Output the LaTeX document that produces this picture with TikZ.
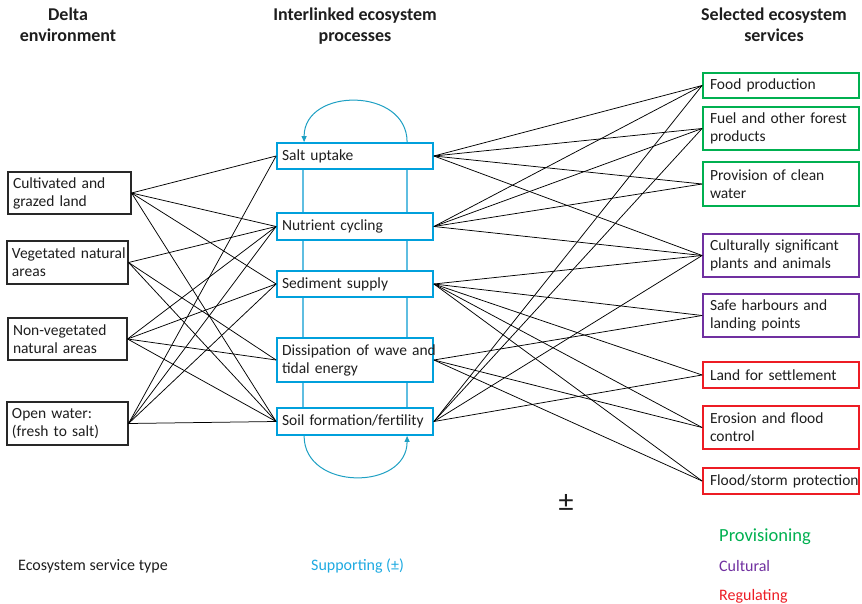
\documentclass[tikz,border=0pt]{standalone}
\usepackage{fontspec}
\setmainfont{Carlito}
\usetikzlibrary{arrows.meta}
\definecolor{txt}{RGB}{30,30,30}
\definecolor{lbd}{RGB}{40,40,40}
\definecolor{midblue}{RGB}{0,160,220}
\definecolor{vblue}{RGB}{95,190,225}
\definecolor{arcblue}{RGB}{30,160,195}
\definecolor{supblue}{RGB}{30,170,225}
\definecolor{provgreen}{RGB}{0,176,80}
\definecolor{cultpurple}{RGB}{112,48,160}
\definecolor{regred}{RGB}{237,28,36}
\begin{document}
\begin{tikzpicture}[x=1pt,y=-1pt,
  every node/.style={text=txt},
  boxfont/.style={font=\fontsize{15.5}{18}\selectfont},
  headfont/.style={font=\fontsize{18}{20.5}\selectfont\bfseries},
  lbox/.style={draw=lbd, line width=1.1pt, fill=white, inner xsep=5pt, inner ysep=0pt, align=left, boxfont},
  mbox/.style={draw=midblue, line width=1.8pt, fill=white, inner xsep=5pt, inner ysep=0pt, align=left, boxfont, text width=146pt},
  rbox/.style={line width=1.8pt, fill=white, inner xsep=7pt, inner ysep=0pt, align=left, boxfont, text width=142pt},
  provbox/.style={rbox, draw=provgreen},
  cultbox/.style={rbox, draw=cultpurple},
  regbox/.style={rbox, draw=regred},
  conn/.style={draw=black, line width=0.75pt},
  vline/.style={draw=vblue, line width=1.4pt},
  loop/.style={draw=arcblue, line width=1pt, -{Triangle[length=6pt,width=5pt]}},
  heading/.style={headfont, align=center, inner sep=0pt, anchor=north},
  legend/.style={font=\fontsize{16}{18}\selectfont, inner sep=0pt, anchor=west}
]
\useasboundingbox (0,0) rectangle (862,604);

% headings
\node[heading] (h1) at (68,8) {Delta\\environment};
\node[heading] (h2) at (355,8) {Interlinked ecosystem\\processes};
\node[heading] (h3) at (774,8) {Selected ecosystem\\services};

% middle boxes
\node[mbox, minimum height=26pt] (S)  at (355,156)   {\mbox{Salt uptake}};
\node[mbox, minimum height=27pt] (Nu) at (355,226.5) {\mbox{Nutrient cycling}};
\node[mbox, minimum height=26pt] (Se) at (355,284)   {\mbox{Sediment supply}};
\node[mbox, minimum height=44pt] (D)  at (355,360)   {\mbox{Dissipation of wave and}\\\mbox{tidal energy}};
\node[mbox, minimum height=27pt] (So) at (355,421.5) {\mbox{Soil formation/fertility}};

% vertical links between the process boxes
\draw[vline] ([xshift=27pt]S.south west) -- ([xshift=27pt]Nu.north west);
\draw[vline] ([xshift=27pt]Nu.south west) -- ([xshift=27pt]Se.north west);
\draw[vline] ([xshift=27pt]Se.south west) -- ([xshift=27pt]D.north west);
\draw[vline] ([xshift=27pt]D.south west) -- ([xshift=27pt]So.north west);
\draw[vline] ([xshift=131pt]S.south west) -- ([xshift=131pt]Nu.north west);
\draw[vline] ([xshift=131pt]Nu.south west) -- ([xshift=131pt]Se.north west);
\draw[vline] ([xshift=131pt]Se.south west) -- ([xshift=131pt]D.north west);
\draw[vline] ([xshift=131pt]D.south west) -- ([xshift=131pt]So.north west);

% loops
\draw[loop] ([xshift=131pt]S.north west) .. controls +(0,-55) and +(0,-55) .. ([xshift=28pt]S.north west);
\draw[loop] ([xshift=28pt]So.south west) .. controls +(0,55) and +(0,55) .. ([xshift=131pt]So.south west);

% left boxes
\node[lbox, text width=113pt, minimum height=42pt] (C) at (69.5,193)   {\mbox{Cultivated and}\\\mbox{grazed land}};
\node[lbox, text width=111pt, minimum height=43pt] (V) at (67.5,262.5) {\mbox{Vegetated natural}\\\mbox{areas}};
\node[lbox, text width=109pt, minimum height=42pt] (N) at (67.5,339)   {\mbox{Non-vegetated}\\\mbox{natural areas}};
\node[lbox, text width=111pt, minimum height=43pt] (O) at (67.5,423.5) {\mbox{Open water:}\\\mbox{(fresh to salt)}};

% right boxes
\node[provbox, minimum height=25pt] (F)  at (781,85.5)  {\mbox{Food production}};
\node[provbox, minimum height=43pt] (Fu) at (781,128.5) {\mbox{Fuel and other forest}\\\mbox{products}};
\node[provbox, minimum height=44pt] (W)  at (781,184)   {\mbox{Provision of clean}\\\mbox{water}};
\node[cultbox, minimum height=43pt] (Cu) at (781,255.5) {\mbox{Culturally significant}\\\mbox{plants and animals}};
\node[cultbox, minimum height=43pt] (H)  at (781,315.5) {\mbox{Safe harbours and}\\\mbox{landing points}};
\node[regbox,  minimum height=26pt] (L)  at (781,375)   {\mbox{Land for settlement}};
\node[regbox,  minimum height=43pt] (E)  at (781,427.5) {\mbox{Erosion and flood}\\\mbox{control}};
\node[regbox,  minimum height=26pt] (Fl) at (781,481)   {\mbox{Flood/storm protection}};

% connectors left -> middle
\foreach \a/\b in {C/S, C/Nu, C/Se, C/So, V/Nu, V/D, V/So, N/Nu, N/Se, N/D, N/So, O/S, O/Nu, O/Se, O/So}
  \draw[conn] (\a.east) -- (\b.west);

% connectors middle -> right
\foreach \a/\b in {S/F, S/Fu, S/W, S/Cu, Nu/F, Nu/Fu, Nu/W, Nu/Cu, Se/Cu, Se/H, Se/L, Se/E, Se/Fl, D/H, D/E, D/Fl, So/F, So/Fu, So/Cu, So/L}
  \draw[conn] (\a.east) -- (\b.west);

% plus-minus sign
\node[font=\fontsize{30}{30}\selectfont, inner sep=0pt] (pm) at (566,503) {±};

% legend
\node[legend] (lt) at (18,566) {Ecosystem service type};
\node[legend, text=supblue] (ls) at (311,566) {Supporting (±)};
\node[legend, text=provgreen, font=\fontsize{18.5}{20}\selectfont] (lp) at (719,537) {Provisioning};
\node[legend, text=cultpurple] (lc) at (719,566) {Cultural};
\node[legend, text=regred] (lr) at (719,596) {Regulating};
\end{tikzpicture}
\end{document}
